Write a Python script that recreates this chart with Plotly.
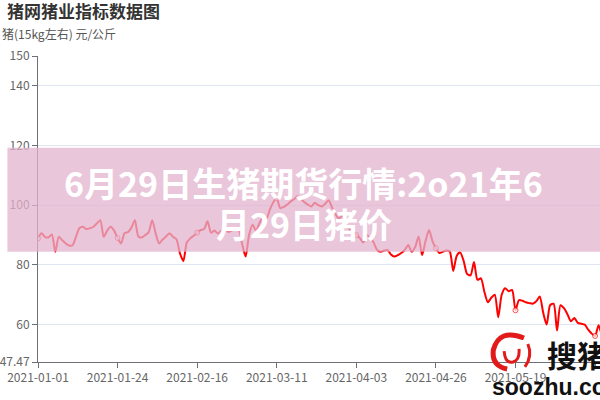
import plotly.graph_objects as go
import pandas as pd

# ---------------- data ----------------
start_date = "2021-01-01"
prices = [
    88.9, 90.6, 89.4, 89.2, 90.2, 84.4, 89.4, 88.3, 87.2, 86.5,
    86.6, 89.5, 92.4, 92.8, 92.0, 92.3, 92.8, 93.9, 95.0, 89.4,
    91.5, 92.8, 91.5, 89.0, 87.2, 90.6, 91.0, 92.5, 95.0, 89.5,
    89.2, 90.0, 91.0, 95.0, 90.6, 87.2, 88.5, 89.5, 90.6, 89.4,
    88.6, 84.0, 81.3, 87.5, 88.9, 89.8, 90.8, 91.7, 92.0, 94.6,
    90.8, 91.5, 90.5, 91.5, 92.0, 91.0, 91.5, 92.0, 91.7, 87.0,
    82.8, 90.0, 93.5, 91.5, 94.0, 96.0, 95.5, 98.5, 101.0, 102.3,
    99.0, 99.4, 100.2, 101.2, 102.0, 103.0, 102.2, 101.0, 100.2, 99.6,
    100.8, 100.0, 99.6, 100.5, 101.7, 99.2, 97.0, 95.5, 96.5, 93.5,
    92.0, 91.0, 90.0, 89.0, 87.5, 90.0, 89.0, 87.5, 85.0, 84.4,
    84.8, 85.0, 83.5, 82.8, 83.3, 84.0, 85.0, 86.7, 84.4, 86.0,
    89.5, 83.3, 88.0, 91.7, 88.0, 85.6, 84.0, 84.4, 84.8, 84.5,
    78.0, 83.0, 84.2, 81.4, 77.0, 76.5, 81.0, 75.0, 75.5, 71.0,
    67.5, 69.0, 70.0, 62.5, 70.0, 72.2, 71.2, 71.6, 64.8, 68.2,
    68.0, 67.5, 67.2, 67.0, 67.8, 69.4, 64.0, 60.0, 66.5, 67.0,
    58.0, 66.5, 65.5, 63.5, 61.1, 62.2, 60.6, 60.3, 60.0, 58.3,
    57.0, 56.2, 59.8, 56.7, 57.5,
]
dates = pd.date_range(start_date, periods=len(prices), freq="D")

x_tick_labels = ["2021-01-01", "2021-01-24", "2021-02-16", "2021-03-11",
                 "2021-04-03", "2021-04-26", "2021-05-19", "2021-06-11"]
y_tick_values = [47.47, 60, 80, 100, 120, 140, 150]
y_tick_labels = ["47.47", "60", "80", "100", "120", "140", "150"]

title_text = "猪网猪业指标数据图"
subtitle_text = "猪(15kg左右) 元/公斤"
banner_line1 = "6月29日生猪期货行情:2o21年6"
banner_line2 = "月29日猪价"

# ---------------- layout helpers ----------------
W, H = 600, 400
L, R, T, B = 31, 0, 56, 38
PW, PH = W - L - R, H - T - B


def px(x):
    return (x - L) / PW


def py(y):
    return (H - B - y) / PH


marker_sizes = [5 if i % 23 == 0 else 0 for i in range(len(prices))]

fig = go.Figure()
fig.add_trace(go.Scatter(
    x=dates, y=prices, mode="lines+markers",
    line=dict(color="#FF0000", width=2, shape="spline", smoothing=0.7),
    marker=dict(size=marker_sizes, color="white",
                line=dict(color="#FF0000", width=1)),
    hoverinfo="x+y", showlegend=False,
))

shapes = [
    # pink banner overlay
    dict(type="rect", xref="paper", yref="paper",
         x0=px(0), x1=px(600), y0=py(251.7), y1=py(147.7),
         fillcolor="rgba(227,179,206,0.75)", line=dict(width=0), layer="above"),
]


def path_of(points):
    cmd = ""
    for c, pts in points:
        cmd += c + " " + " ".join(f"{px(a):.4f},{py(b):.4f}" for a, b in pts) + " "
    return cmd.strip()


# red swirl logo (watermark)
shapes.append(dict(type="path", xref="paper", yref="paper",
                   path=path_of([("M", [(523, 338)]), ("Q", [(498, 328), (492, 350)]),
                                 ("Q", [(490, 366), (506, 369)])]),
                   line=dict(color="#E21A1A", width=5), layer="above"))
shapes.append(dict(type="path", xref="paper", yref="paper",
                   path=path_of([("M", [(503, 351)]), ("Q", [(504, 364), (512, 362)]),
                                 ("Q", [(519, 360), (518, 349)])]),
                   line=dict(color="#E21A1A", width=3), layer="above"))
shapes.append(dict(type="path", xref="paper", yref="paper",
                   path=path_of([("M", [(527, 344)]), ("Q", [(532, 356), (524, 367)])]),
                   line=dict(color="#E21A1A", width=3), layer="above"))

cjk = "Noto Sans CJK SC"
annotations = [
    dict(text=f"<b>{title_text}</b>", xref="paper", yref="paper",
         x=px(-2), y=py(10), xanchor="left", yanchor="middle", showarrow=False,
         font=dict(family=cjk, size=17, color="#333333")),
    dict(text=subtitle_text, xref="paper", yref="paper",
         x=px(-7), y=py(33), xanchor="left", yanchor="middle", showarrow=False,
         font=dict(family=cjk, size=12, color="#555555")),
    dict(text=f"<b>{banner_line1}</b>", xref="paper", yref="paper",
         x=px(300), y=py(182), xanchor="center", yanchor="middle", showarrow=False,
         font=dict(family=cjk, size=34, color="white")),
    dict(text=f"<b>{banner_line2}</b>", xref="paper", yref="paper",
         x=px(300), y=py(223), xanchor="center", yanchor="middle", showarrow=False,
         font=dict(family=cjk, size=34, color="white")),
    dict(text="<b>soozhu.com</b>", xref="paper", yref="paper",
         x=px(489), y=py(387), xanchor="left", yanchor="middle", showarrow=False,
         font=dict(family="Liberation Sans", size=23, color="#111111")),
    dict(text="<b>搜猪</b>", xref="paper", yref="paper",
         x=px(544), y=py(354), xanchor="left", yanchor="middle", showarrow=False,
         font=dict(family=cjk, size=30, color="#111111")),
]

fig.update_layout(
    width=W, height=H, autosize=False,
    margin=dict(l=L, r=R, t=T, b=B, pad=0),
    paper_bgcolor="white", plot_bgcolor="white",
    shapes=shapes, annotations=annotations,
    font=dict(family=cjk, size=12, color="#666666"),
    xaxis=dict(
        type="date",
        range=["2021-01-01", "2021-06-12 10:00"],
        tickvals=x_tick_labels, ticktext=x_tick_labels,
        showgrid=False, zeroline=False,
        showline=True, linecolor="#6E7079", linewidth=1,
        ticks="outside", ticklen=5, tickcolor="#6E7079",
        tickfont=dict(family=cjk, size=12, color="#666666"),
    ),
    yaxis=dict(
        range=[47.47, 150],
        tickvals=y_tick_values, ticktext=y_tick_labels,
        showgrid=True, gridcolor="#E0E6F1", gridwidth=1, zeroline=False,
        showline=True, linecolor="#6E7079", linewidth=1,
        ticks="outside", ticklen=5, tickcolor="#6E7079",
        tickfont=dict(family=cjk, size=12, color="#666666"),
    ),
)

fig.write_html(
    "out.html",
    config={"displayModeBar": False},
    post_script="document.body.style.margin='0';document.body.style.padding='0';"
                "document.body.style.overflow='hidden';",
)
